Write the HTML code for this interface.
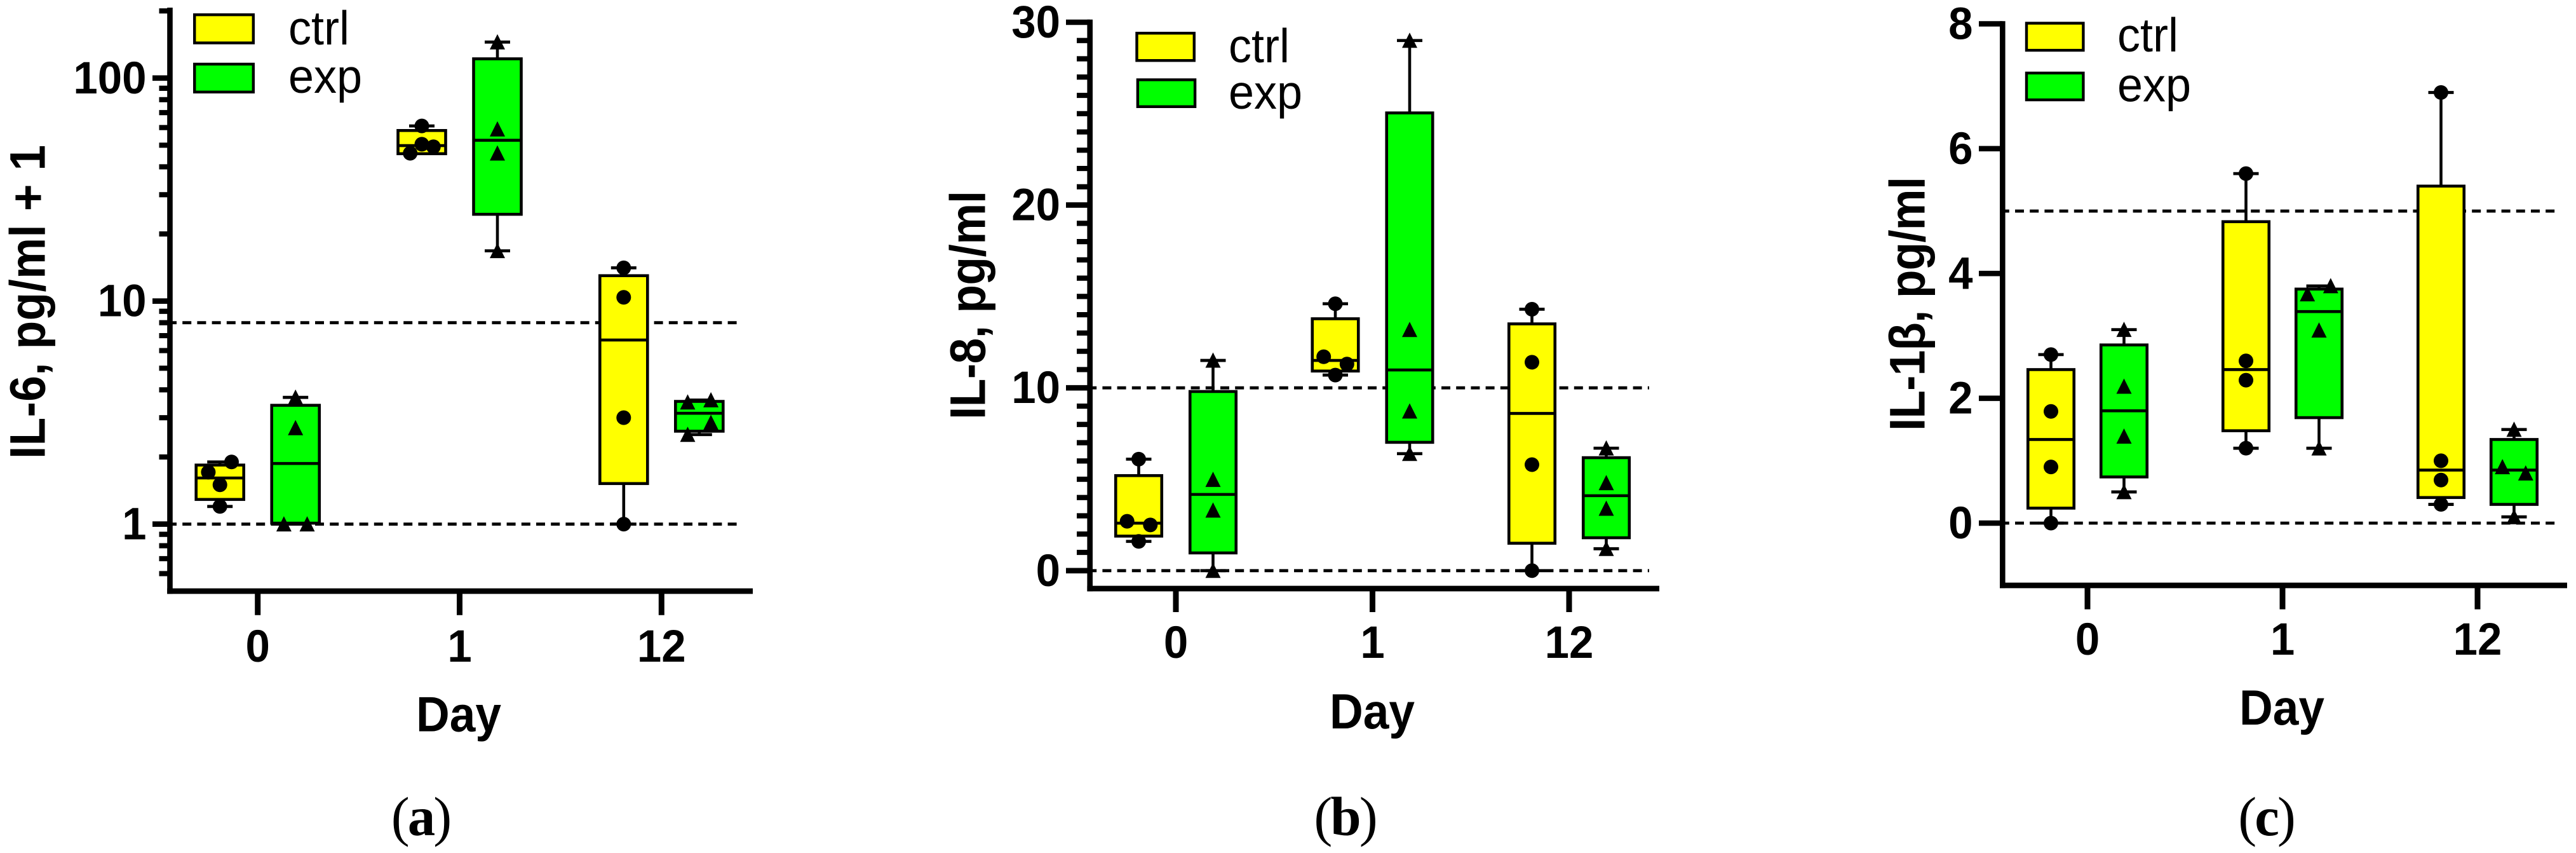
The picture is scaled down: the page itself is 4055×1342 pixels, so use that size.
<!DOCTYPE html>
<html lang="en">
<head>
<meta charset="utf-8">
<title>Cytokine levels by day: IL-6, IL-8 and IL-1β</title>
<style>
html,body{margin:0;padding:0;background:#fff;}
svg{display:block;}
text{fill:#000;font-family:"Liberation Sans","DejaVu Sans",sans-serif;}
.ttl{font-size:73px;font-weight:700;text-anchor:middle;}
.day{font-size:73px;font-weight:700;text-anchor:middle;}
.leg{font-size:72px;}
.cap{font-family:"Liberation Serif","DejaVu Serif",serif;font-size:87px;text-anchor:middle;letter-spacing:-3px;}
.cap tspan{font-weight:700;}
.swatch{stroke:#000;stroke-width:4.4;}
</style>
</head>
<body>
<svg id="fig" xmlns="http://www.w3.org/2000/svg" width="4055" height="1342" viewBox="0 0 4055 1342">
  <rect x="0" y="0" width="4055" height="1342" fill="#fff"/>

  <g id="panel-a"></g>
  <g id="panel-b"></g>
  <g id="panel-c"></g>

  <text class="ttl" transform="translate(70.5 475) rotate(-90) scale(1 1.08)" textLength="494" lengthAdjust="spacing">IL-6, pg/ml + 1</text>
  <text class="ttl" transform="translate(1550.5 480) rotate(-90) scale(1 1.08)" textLength="360" lengthAdjust="spacing">IL-8, pg/ml</text>
  <text class="ttl" transform="translate(3029.5 478) rotate(-90) scale(1 1.08)" textLength="400" lengthAdjust="spacing">IL-1β, pg/ml</text>

  <text class="day" transform="translate(722 1150.7) scale(1 1.07)">Day</text>
  <text class="day" transform="translate(2160 1146) scale(1 1.07)">Day</text>
  <text class="day" transform="translate(3592 1140) scale(1 1.07)">Day</text>

  <g>
    <rect class="swatch" x="306.2" y="23.2" width="92.6" height="44.3" fill="#ffff00"/>
    <rect class="swatch" x="306.2" y="100.9" width="92.6" height="43.9" fill="#00ff00"/>
    <text class="leg" transform="translate(454 70) scale(1 1.04)">ctrl</text>
    <text class="leg" transform="translate(454 146) scale(1 1.04)">exp</text>
  </g>
  <g>
    <rect class="swatch" x="1789.5" y="52.2" width="90.3" height="43" fill="#ffff00"/>
    <rect class="swatch" x="1790.9" y="125.5" width="90.2" height="42.3" fill="#00ff00"/>
    <text class="leg" transform="translate(1934 98) scale(1 1.04)">ctrl</text>
    <text class="leg" transform="translate(1934 171) scale(1 1.04)">exp</text>
  </g>
  <g>
    <rect class="swatch" x="3190" y="36.5" width="89.4" height="42.6" fill="#ffff00"/>
    <rect class="swatch" x="3190" y="114.9" width="89.4" height="42.2" fill="#00ff00"/>
    <text class="leg" transform="translate(3333 81) scale(1 1.04)">ctrl</text>
    <text class="leg" transform="translate(3333 159.5) scale(1 1.04)">exp</text>
  </g>

  <text class="cap" x="662" y="1314">(<tspan>a</tspan>)</text>
  <text class="cap" x="2117" y="1314">(<tspan>b</tspan>)</text>
  <text class="cap" x="3567" y="1314">(<tspan>c</tspan>)</text>
</svg>

<script>
// Shared categories
const days = ['0', '1', '12'];

// IL-6 (pg/ml + 1): box stats are [q1, median, q3] per day; whiskers run to the min/max point
const il6TickLabels = [1, 10, 100];
const il6MinorTicks = [0.6, 0.7, 0.8, 0.9, 2, 3, 4, 5, 6, 7, 8, 9, 20, 30, 40, 50, 60, 70, 80, 90, 200];
const il6RefLines = [1, 8];
const il6CtrlBox = [[1.29, 1.61, 1.84], [45.8, 49.8, 58.2], [1.52, 6.69, 13]];
const il6ExpBox = [[1.01, 1.87, 3.41], [24.5, 52.6, 122], [2.61, 3.14, 3.55]];
const il6CtrlPoints = [[1.9, 1.71, 1.5, 1.2], [61, 50.5, 49.2, 46], [14.1, 10.4, 3, 1]];
const il6ExpPoints = [[3.7, 2.7, 1, 1], [145, 59, 46, 16.8], [3.6, 3.52, 2.85, 2.52]];
const il6CtrlSlots = [[1, -1, 0, 0], [0, 0, 1, -1], [0, 0, 0, 0]];
const il6ExpSlots = [[0, 0, -1, 1], [0, 0, 0, 0], [1, -1, 1, -1]];

// IL-8 (pg/ml)
const il8TickLabels = [0, 10, 20, 30];
const il8MinorTicks = [1, 2, 3, 4, 5, 6, 7, 8, 9, 11, 12, 13, 14, 15, 16, 17, 18, 19, 21, 22, 23, 24, 25, 26, 27, 28, 29];
const il8RefLines = [0, 10];
const il8CtrlBox = [[1.89, 2.6, 5.2], [10.92, 11.5, 13.78], [1.5, 8.6, 13.5]];
const il8ExpBox = [[0.97, 4.17, 9.8], [7.02, 10.98, 25.04], [1.8, 4.1, 6.18]];
const il8CtrlPoints = [[6.1, 2.7, 2.5, 1.6], [14.6, 11.7, 11.3, 10.7], [14.3, 11.4, 5.8, 0]];
const il8ExpPoints = [[11.5, 4.98, 3.3, 0], [29, 13.18, 8.72, 6.4], [6.7, 4.8, 3.4, 1.2]];
const il8CtrlSlots = [[0, -1, 1, 0], [0, -1, 1, 0], [0, 0, 0, 0]];
const il8ExpSlots = [[0, 0, 0, 0], [0, 0, 0, 0], [0, 0, 0, 0]];

// IL-1 beta (pg/ml)
const il1bTickLabels = [0, 2, 4, 6, 8];
const il1bMinorTicks = [];
const il1bRefLines = [0, 5];
const il1bCtrlBox = [[0.24, 1.34, 2.46], [1.48, 2.46, 4.83], [0.41, 0.85, 5.4]];
const il1bExpBox = [[0.74, 1.8, 2.855], [1.69, 3.39, 3.75], [0.3, 0.85, 1.34]];
const il1bCtrlPoints = [[2.7, 1.79, 0.9, 0], [5.6, 2.6, 2.29, 1.2], [6.9, 1, 0.69, 0.3]];
const il1bExpPoints = [[3.1, 2.19, 1.39, 0.5], [3.8, 3.67, 3.09, 1.2], [1.5, 0.9, 0.8, 0.1]];
const il1bCtrlSlots = [[0, 0, 0, 0], [0, 0, 0, 0], [0, 0, 0, 0]];
const il1bExpSlots = [[0, 0, 0, 0], [1, -1, 0, 0], [0, -1, 1, 0]];

const NS = 'http://www.w3.org/2000/svg';

function make(parent, tag, attrs) {
  const el = document.createElementNS(NS, tag);
  for (const key in attrs) el.setAttribute(key, attrs[key]);
  parent.appendChild(el);
  return el;
}

function linearScale(d0, d1, r0, r1) {
  return v => r0 + (v - d0) * (r1 - r0) / (d1 - d0);
}

function logScale(d0, d1, r0, r1) {
  const inner = linearScale(Math.log10(d0), Math.log10(d1), r0, r1);
  return v => inner(Math.log10(v));
}

function drawPanel(p) {
  const g = document.getElementById(p.id);
  const y = p.yScale;
  const catX = i => p.x0 + i * p.step;
  const lowest = p.xAxisY;

  // reference lines
  p.refLines.forEach(v => {
    const line = make(g, 'line', {x1: p.axisX - 3.5, x2: p.dashEnd, y1: y(v), y2: y(v), stroke: '#000', 'stroke-width': 4.8, 'stroke-dasharray': '14 9.2'});
    
    
  });

  // boxes
  [['ctrl', p.ctrlBox, p.ctrlPoints, p.ctrlSlots, -1, '#ffff00'],
   ['exp', p.expBox, p.expPoints, p.expSlots, 1, '#00ff00']].forEach(s => {
    const [series, boxes, pointSets, slotSets, side, color] = s;
    boxes.forEach((stats, i) => {
      const cx = catX(i) + side * p.offset;
      const pts = pointSets[i];
      const top = y(Math.max.apply(null, pts));
      const bot = y(Math.min.apply(null, pts));
      const group = make(g, 'g', {});
      
      

      const whisker = make(group, 'line', {x1: cx, x2: cx, y1: top, y2: bot, stroke: '#000', 'stroke-width': 4.6});
      
      

      [top, bot].forEach(cy => {
        const cap = make(group, 'line', {x1: cx - 20, x2: cx + 20, y1: cy, y2: cy, stroke: '#000', 'stroke-width': 4.8});
        
        
      });

      const rect = make(group, 'rect', {x: cx - p.boxW / 2, y: y(stats[2]), width: p.boxW, height: y(stats[0]) - y(stats[2]), fill: color, stroke: '#000', 'stroke-width': 4.6});
      
      

      const med = make(group, 'line', {x1: cx - p.boxW / 2, x2: cx + p.boxW / 2, y1: y(stats[1]), y2: y(stats[1]), stroke: '#000', 'stroke-width': 4.6});
      
      

      pts.forEach((v, k) => {
        const px = cx + slotSets[i][k] * 18.3;
        const py = y(v);
        let mark;
        if (series === 'ctrl') {
          mark = make(group, 'circle', {cx: px, cy: py, r: 11.5, fill: '#000'});
        } else {
          mark = make(group, 'polygon', {points: `${px},${py - 12.5} ${px + 12},${py + 11.5} ${px - 12},${py + 11.5}`, fill: '#000'});
        }
        
        
      });
    });
  });

  // minor y ticks
  p.minorTicks.forEach(v => {
    const t = make(g, 'line', {x1: p.axisX - p.minorLen, x2: p.axisX, y1: y(v), y2: y(v), stroke: '#000', 'stroke-width': 8.2});
    
    
  });

  // major y ticks and labels
  p.tickLabels.forEach(v => {
    const t = make(g, 'line', {x1: p.axisX - p.majorLen, x2: p.axisX, y1: y(v), y2: y(v), stroke: '#000', 'stroke-width': 8.6});
    
    
    const lab = make(g, 'text', {transform: `translate(${p.labelRight} ${y(v) + 24}) scale(1 1.03)`, 'text-anchor': 'end', 'font-size': 69, 'font-weight': 700});
    lab.textContent = String(v);
    
    
  });

  // x ticks and labels
  days.forEach((d, i) => {
    const t = make(g, 'line', {x1: catX(i), x2: catX(i), y1: lowest, y2: p.xTickEnd, stroke: '#000', 'stroke-width': 9});
    
    
    const lab = make(g, 'text', {transform: `translate(${catX(i)} ${p.xLabelY}) scale(1 1.03)`, 'text-anchor': 'middle', 'font-size': 69, 'font-weight': 700});
    lab.textContent = d;
    
    
  });

  // axis lines
  const yAxis = make(g, 'line', {x1: p.axisX, x2: p.axisX, y1: p.axisTop, y2: lowest + 4.3, stroke: '#000', 'stroke-width': 8.6});
  
  
  const xAxis = make(g, 'line', {x1: p.axisX - 4.3, x2: p.xEnd, y1: lowest, y2: lowest, stroke: '#000', 'stroke-width': 8.8});
  
  
}

drawPanel({
  id: 'panel-a', key: 'il-6',
  yScale: logScale(0.5, 200, 930.2, 17.2),
  axisX: 267.5, axisTop: 12, xAxisY: 930, xEnd: 1185, dashEnd: 1168,
  x0: 405.7, step: 317.8, offset: 59.5, boxW: 75,
  majorLen: 27.5, minorLen: 17, labelRight: 230.5, xTickEnd: 967.7, xLabelY: 1041,
  tickLabels: il6TickLabels, minorTicks: il6MinorTicks, refLines: il6RefLines,
  ctrlBox: il6CtrlBox, expBox: il6ExpBox,
  ctrlPoints: il6CtrlPoints, expPoints: il6ExpPoints,
  ctrlSlots: il6CtrlSlots, expSlots: il6ExpSlots
});

drawPanel({
  id: 'panel-b', key: 'il-8',
  yScale: linearScale(-1, 30, 926.56, 35),
  axisX: 1715.7, axisTop: 30.7, xAxisY: 926, xEnd: 2612, dashEnd: 2596,
  x0: 1851, step: 309.5, offset: 58.5, boxW: 72.5,
  majorLen: 37.7, minorLen: 20.7, labelRight: 1669, xTickEnd: 963, xLabelY: 1035,
  tickLabels: il8TickLabels, minorTicks: il8MinorTicks, refLines: il8RefLines,
  ctrlBox: il8CtrlBox, expBox: il8ExpBox,
  ctrlPoints: il8CtrlPoints, expPoints: il8ExpPoints,
  ctrlSlots: il8CtrlSlots, expSlots: il8ExpSlots
});

drawPanel({
  id: 'panel-c', key: 'il-1b',
  yScale: linearScale(-1, 8, 921.2, 37.5),
  axisX: 3152.3, axisTop: 33.3, xAxisY: 921, xEnd: 4041, dashEnd: 4025,
  x0: 3286, step: 307, offset: 57.5, boxW: 72.5,
  majorLen: 37.3, minorLen: 17, labelRight: 3105.5, xTickEnd: 958.6, xLabelY: 1030,
  tickLabels: il1bTickLabels, minorTicks: il1bMinorTicks, refLines: il1bRefLines,
  ctrlBox: il1bCtrlBox, expBox: il1bExpBox,
  ctrlPoints: il1bCtrlPoints, expPoints: il1bExpPoints,
  ctrlSlots: il1bCtrlSlots, expSlots: il1bExpSlots
});
</script>
</body>
</html>
